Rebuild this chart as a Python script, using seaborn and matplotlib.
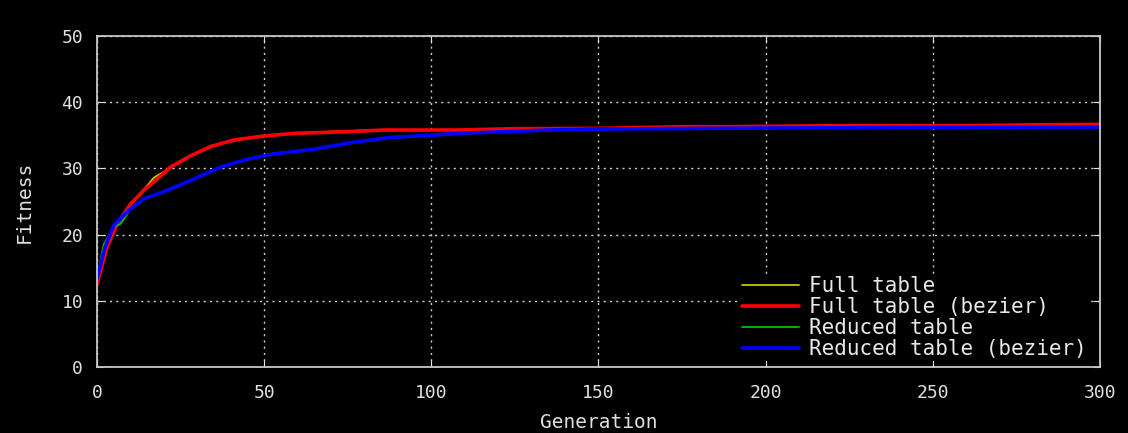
import numpy as np
import pandas as pd
import matplotlib
matplotlib.use('Agg')
import matplotlib.pyplot as plt
import seaborn as sns

# valores
red_gen = [0, 3, 6, 10, 14, 18, 22, 28, 34, 41, 50, 59, 72, 86, 108, 125, 150, 176, 188, 221, 260, 285, 300]
red_fit = [12.6, 18.1, 21.6, 24.6, 26.7, 28.4, 30.2, 31.9, 33.3, 34.3, 34.9, 35.3, 35.5, 35.8, 35.8,
           36.0, 36.05, 36.3, 36.3, 36.45, 36.45, 36.6, 36.65]

blue_gen = [0, 2.4, 5, 9.4, 14, 21, 29, 37, 45, 53, 65, 76, 88, 100, 108, 125, 135, 150, 200, 260, 300]
blue_fit = [13.4, 18.1, 21.4, 23.6, 25.4, 26.7, 28.4, 30.2, 31.4, 32.2, 32.9, 33.9, 34.7, 35.0, 35.3,
            35.6, 35.8, 35.95, 36.1, 36.2, 36.25]

yellow_gen = [0, 3, 6, 10, 14, 17, 22, 28, 34, 41, 50, 59, 72, 86, 108, 125, 150, 200, 250, 300]
yellow_fit = [12.5, 18.0, 21.5, 24.5, 26.8, 28.6, 30.1, 31.9, 33.4, 34.2, 34.9, 35.3, 35.6, 35.8, 35.8,
              36.0, 36.0, 36.3, 36.4, 36.6]

green_gen = [0, 2, 5, 7, 10, 14, 20, 25, 29, 37, 45, 53, 65, 76, 88, 100, 125, 150, 200, 300]
green_fit = [13.5, 18.5, 21.2, 21.6, 23.8, 25.3, 26.4, 27.4, 28.4, 30.2, 31.3, 32.3, 32.9, 33.9, 34.6,
             35.0, 35.6, 35.9, 36.1, 36.2]

x_ticks = [0, 50, 100, 150, 200, 250, 300]
y_ticks = [0, 10, 20, 30, 40, 50]

sns.set_style('dark')
plt.rcParams['font.family'] = ['DejaVu Sans Mono']

fig = plt.figure(figsize=(11.28, 4.33), dpi=100, facecolor='black')
ax = fig.add_axes([0.086, 0.152, 0.889, 0.765])
ax.set_facecolor('black')

series = [
    ('Full table', yellow_gen, yellow_fit, '#c8c800', 1.3),
    ('Full table (bezier)', red_gen, red_fit, '#ff0000', 2.6),
    ('Reduced table', green_gen, green_fit, '#00c000', 1.3),
    ('Reduced table (bezier)', blue_gen, blue_fit, '#0000ff', 2.6),
]
for nome, g, f, cor, lw in series:
    df = pd.DataFrame({'Generation': g, 'Fitness': f})
    sns.lineplot(data=df, x='Generation', y='Fitness', color=cor, linewidth=lw, label=nome, ax=ax)

ax.set_xlim(0, 300)
ax.set_ylim(0, 50)
ax.set_xticks(x_ticks)
ax.set_yticks(y_ticks)
ax.grid(True, color='#d0d0d0', linestyle=(0, (1.5, 3)), linewidth=1.0)
ax.set_axisbelow(True)
for s in ax.spines.values():
    s.set_visible(True)
    s.set_color('#c8c8c8')
    s.set_linewidth(1.3)
ax.tick_params(colors='#e0e0e0', labelsize=13, direction='in', length=5,
               top=True, right=True, bottom=True, left=True)
ax.tick_params(axis='x', pad=12)
ax.tick_params(axis='y', pad=10)
ax.set_xlabel('Generation', color='#e0e0e0', fontsize=14, labelpad=8)
ax.set_ylabel('Fitness', color='#e0e0e0', fontsize=14, labelpad=20)

# caixa da legenda preta (esconde a grade), deixando os ticks de baixo visíveis
leg = ax.legend(loc='lower right', bbox_to_anchor=(0.989, 0.018), frameon=True, fontsize=15,
                handlelength=2.7, labelspacing=0.05, handletextpad=0.5,
                borderaxespad=0.0, borderpad=0.1, fancybox=False)
leg.get_frame().set_facecolor('black')
leg.get_frame().set_edgecolor('none')
leg.get_frame().set_alpha(1.0)
leg.set_zorder(2.4)
for t in leg.get_texts():
    t.set_color('#e8e8e8')

fig.savefig('out.png', dpi=100, facecolor='black')
